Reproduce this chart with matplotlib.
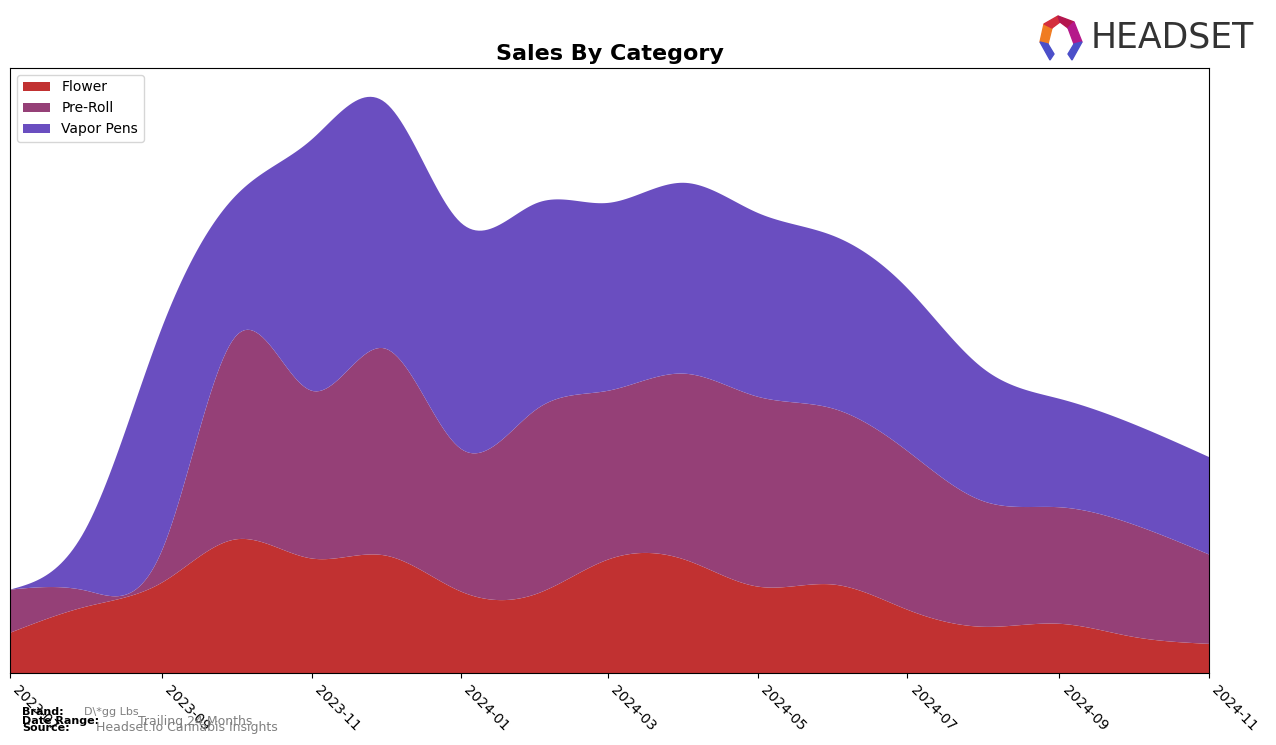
import numpy as np
import pandas as pd
import matplotlib
matplotlib.use('Agg')
import matplotlib.pyplot as plt
import matplotlib.dates as mdates
from matplotlib.patches import Polygon

months = pd.date_range('2023-07-01', '2024-11-01', freq='MS')
flower = [40, 66, 90, 133, 114, 117, 81, 79, 113, 113, 86, 88, 63, 46, 49, 36, 29]
pre_roll = [43, 16, 32, 202, 167, 206, 142, 184, 168, 185, 189, 175, 158, 125, 116, 112, 89]
vapor_pens = [0, 62, 222, 140, 250, 245, 225, 205, 187, 190, 183, 172, 162, 132, 108, 100, 97]
categories = ['Flower', 'Pre-Roll', 'Vapor Pens']
colors = ['#c13131', '#954077', '#6a4ec0']


def smooth(x, y, n=400):
    # natural cubic spline, numpy only
    x = np.asarray(x, float)
    y = np.asarray(y, float)
    k = len(x)
    h = np.diff(x)
    A = np.zeros((k, k))
    b = np.zeros(k)
    A[0, 0] = A[-1, -1] = 1
    for i in range(1, k - 1):
        A[i, i - 1] = h[i - 1]
        A[i, i] = 2 * (h[i - 1] + h[i])
        A[i, i + 1] = h[i]
        b[i] = 3 * ((y[i + 1] - y[i]) / h[i] - (y[i] - y[i - 1]) / h[i - 1])
    c = np.linalg.solve(A, b)
    xs = np.linspace(x[0], x[-1], n)
    idx = np.clip(np.searchsorted(x, xs) - 1, 0, k - 2)
    dx = xs - x[idx]
    bb = (y[idx + 1] - y[idx]) / h[idx] - h[idx] * (2 * c[idx] + c[idx + 1]) / 3
    dd = (c[idx + 1] - c[idx]) / (3 * h[idx])
    ys = y[idx] + bb * dx + c[idx] * dx ** 2 + dd * dx ** 3
    return xs, ys


xnum = mdates.date2num(months)
series = [flower, pre_roll, vapor_pens]
smoothed = []
for s in series:
    xs, ys = smooth(xnum, s)
    smoothed.append(np.clip(ys, 0, None))

fig = plt.figure(figsize=(12.76, 7.45), dpi=100)
ax = fig.add_axes([10 / 1276, 72 / 745, 1199 / 1276, 605 / 745])
ax.stackplot(mdates.num2date(xs), *smoothed, labels=categories, colors=colors)

total = np.sum(smoothed, axis=0)
ax.set_ylim(0, total.max() * 1.05)
ax.set_xlim(months[0], months[-1])
ax.set_yticks([])
ax.xaxis.set_major_locator(mdates.MonthLocator(bymonth=[1, 3, 5, 7, 9, 11]))
ax.xaxis.set_major_formatter(mdates.DateFormatter('%Y-%m'))
plt.setp(ax.get_xticklabels(), rotation=-45, ha='left', fontsize=10)
ax.set_title('Sales By Category', fontsize=16, fontweight='bold')
ax.legend(loc='upper left', fontsize=10)

# footer
fig.text(22 / 1276, 1 - 712 / 745, 'Brand:', fontsize=8, fontweight='bold', va='center')
fig.text(84 / 1276, 1 - 712 / 745, 'D\\*gg Lbs', fontsize=8, color='gray', va='center')
fig.text(22 / 1276, 1 - 721 / 745, 'Date Range:', fontsize=8, fontweight='bold', va='center')
fig.text(138 / 1276, 1 - 721 / 745, 'Trailing 24 Months', fontsize=9, color='gray', va='center')
fig.text(22 / 1276, 1 - 728 / 745, 'Source:', fontsize=8, fontweight='bold', va='center')
fig.text(96 / 1276, 1 - 728 / 745, 'Headset.io Cannabis Insights', fontsize=9, color='gray', va='center')

# logo
fig.text(1091 / 1276, 1 - 38 / 745, 'HEADSET', fontsize=25, color='#333333', va='center', ha='left')
lax = fig.add_axes([1036 / 1276, 1 - 62 / 745, 50 / 1276, 48 / 745])
lax.set_xlim(0, 50)
lax.set_ylim(0, 48)
lax.axis('off')
pieces = [
    ([(4, 20), (8, 38), (16, 34), (12, 18)], '#f07c22'),
    ([(8, 38), (22, 46), (24, 40), (16, 34)], '#d42e3c'),
    ([(22, 46), (38, 40), (32, 34), (24, 40)], '#b3164e'),
    ([(38, 40), (46, 20), (38, 18), (32, 34)], '#b5198a'),
    ([(4, 20), (12, 18), (18, 8), (14, 2)], '#4b4fc9'),
    ([(46, 20), (38, 18), (32, 8), (36, 2)], '#4b4fc9'),
]
for pts, c in pieces:
    lax.add_patch(Polygon(pts, closed=True, color=c))

fig.savefig('out.png', dpi=100)
